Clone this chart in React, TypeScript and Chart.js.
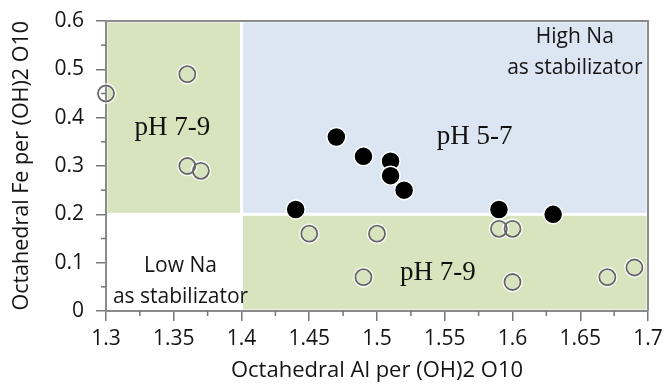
import React, { useEffect, useRef } from "react";
import { Chart, registerables } from "chart.js";

Chart.register(...registerables);

// ---- data ----
const openX = [1.3, 1.36, 1.36, 1.37, 1.45, 1.49, 1.5, 1.59, 1.6, 1.6, 1.67, 1.69];
const openY = [0.45, 0.49, 0.3, 0.29, 0.16, 0.07, 0.16, 0.17, 0.17, 0.06, 0.07, 0.09];
const filledX = [1.44, 1.47, 1.49, 1.51, 1.51, 1.52, 1.59, 1.63];
const filledY = [0.21, 0.36, 0.32, 0.31, 0.28, 0.25, 0.21, 0.2];

const xTitle = "Octahedral Al per (OH)2 O10";
const yTitle = "Octahedral Fe per (OH)2 O10";

// zones (data units)
const zoneX0 = [1.3, 1.4, 1.4];
const zoneX1 = [1.4, 1.7, 1.7];
const zoneY0 = [0.2, 0.2, 0.0];
const zoneY1 = [0.6, 0.6, 0.2];
const zoneColors = ["#d7e4bd", "#dce6f2", "#d7e4bd"];

// annotation texts (data units)
const noteTexts = ["pH 7-9", "pH 5-7", "pH 7-9", "High Na", "as stabilizator", "Low Na", "as stabilizator"];
const noteX = [1.349, 1.572, 1.545, 1.646, 1.646, 1.355, 1.355];
const noteY = [0.379, 0.36, 0.079, 0.567, 0.503, 0.093, 0.029];
const noteSerif = [true, true, true, false, false, false, false];

const SANS = "'Open Sans', 'DejaVu Sans', sans-serif";
const SERIF = "'Liberation Serif', 'DejaVu Serif', serif";

const zonesPlugin = {
  id: "zones",
  beforeDraw(chart: any) {
    const { ctx, scales } = chart;
    const x = scales.x;
    const y = scales.y;
    ctx.save();
    for (let i = 0; i < zoneX0.length; i++) {
      const px0 = x.getPixelForValue(zoneX0[i]);
      const px1 = x.getPixelForValue(zoneX1[i]);
      const py0 = y.getPixelForValue(zoneY1[i]);
      const py1 = y.getPixelForValue(zoneY0[i]);
      ctx.fillStyle = zoneColors[i];
      ctx.fillRect(px0 + 1.5, py0 + 1.5, px1 - px0 - 3, py1 - py0 - 3);
    }
    ctx.restore();
  },
  afterDraw(chart: any) {
    const { ctx, chartArea, scales } = chart;
    const x = scales.x;
    const y = scales.y;
    ctx.save();
    // frame top & right
    ctx.strokeStyle = "#8c8c8c";
    ctx.lineWidth = 2;
    ctx.beginPath();
    ctx.moveTo(chartArea.left, chartArea.top);
    ctx.lineTo(chartArea.right, chartArea.top);
    ctx.lineTo(chartArea.right, chartArea.bottom);
    ctx.stroke();
    // minor ticks
    ctx.strokeStyle = "#777";
    ctx.lineWidth = 1.5;
    const xt = x.ticks;
    for (let i = 0; i < xt.length - 1; i++) {
      const v = (xt[i].value + xt[i + 1].value) / 2;
      const p = x.getPixelForValue(v);
      ctx.beginPath();
      ctx.moveTo(p, chartArea.bottom);
      ctx.lineTo(p, chartArea.bottom + 5);
      ctx.stroke();
    }
    const yt = y.ticks;
    for (let i = 0; i < yt.length - 1; i++) {
      const v = (yt[i].value + yt[i + 1].value) / 2;
      const p = y.getPixelForValue(v);
      ctx.beginPath();
      ctx.moveTo(chartArea.left, p);
      ctx.lineTo(chartArea.left - 5, p);
      ctx.stroke();
    }
    ctx.restore();
  },
  afterDatasetsDraw(chart: any) {
    const { ctx, scales } = chart;
    const x = scales.x;
    const y = scales.y;
    ctx.save();
    ctx.textAlign = "center";
    ctx.textBaseline = "middle";
    for (let i = 0; i < noteTexts.length; i++) {
      const px = x.getPixelForValue(noteX[i]);
      const py = y.getPixelForValue(noteY[i]);
      if (noteSerif[i]) {
        ctx.font = `27px ${SERIF}`;
        ctx.fillStyle = "#111";
      } else {
        ctx.font = `21px ${SANS}`;
        ctx.fillStyle = "#151515";
      }
      ctx.fillText(noteTexts[i], px, py);
    }
    ctx.restore();
  },
};

export default function App() {
  const ref = useRef<HTMLCanvasElement>(null);
  useEffect(() => {
    if (!ref.current) return;
    const fmt = (v: any) => String(Number(Number(v).toFixed(2)));
    const chart = new Chart(ref.current, {
      type: "scatter",
      data: {
        datasets: [
          {
            label: "open",
            data: openX.map((v, i) => ({ x: v, y: openY[i] })),
            pointRadius: 8,
            pointBackgroundColor: "rgba(0,0,0,0)",
            pointBorderColor: "#666",
            pointBorderWidth: 1.8,
            order: 2,
            clip: false,
          } as any,
          {
            label: "open-halo",
            data: openX.map((v, i) => ({ x: v, y: openY[i] })),
            pointRadius: 8.5,
            pointBackgroundColor: "rgba(0,0,0,0)",
            pointBorderColor: "rgba(255,255,255,0.95)",
            pointBorderWidth: 3.5,
            order: 3,
            clip: false,
          } as any,
          {
            label: "filled",
            data: filledX.map((v, i) => ({ x: v, y: filledY[i] })),
            pointRadius: 9.5,
            pointBackgroundColor: "#000",
            pointBorderColor: "#fff",
            pointBorderWidth: 1.5,
            order: 1,
            clip: false,
          } as any,
        ],
      },
      plugins: [zonesPlugin],
      options: {
        responsive: false,
        animation: false,
        layout: { padding: { top: 21, right: 16, bottom: 0, left: 0 } },
        plugins: {
          legend: { display: false },
          tooltip: { enabled: false },
        },
        scales: {
          x: {
            type: "linear",
            min: 1.3,
            max: 1.7,
            afterFit(scale: any) {
              scale.height = 74;
              scale.paddingLeft = 0;
              scale.paddingRight = 0;
            },
            ticks: {
              stepSize: 0.05,
              callback: fmt,
              color: "#151515",
              font: { family: SANS, size: 21 },
              padding: 5,
              maxRotation: 0,
              autoSkip: false,
            },
            grid: {
              drawOnChartArea: false,
              drawTicks: true,
              tickLength: 10,
              color: "#777",
              lineWidth: 1.5,
            },
            border: { display: true, color: "#8a8a8a", width: 2 },
            title: {
              display: true,
              text: xTitle,
              color: "#151515",
              font: { family: SANS, size: 22 },
              padding: { top: 0, bottom: 1 },
            },
          },
          y: {
            type: "linear",
            min: 0,
            max: 0.6,
            afterFit(scale: any) {
              scale.width = 106;
              scale.paddingTop = 0;
              scale.paddingBottom = 0;
            },
            ticks: {
              stepSize: 0.1,
              callback: fmt,
              color: "#151515",
              font: { family: SANS, size: 21 },
              padding: 12,
              autoSkip: false,
            },
            grid: {
              drawOnChartArea: false,
              drawTicks: true,
              tickLength: 10,
              color: "#777",
              lineWidth: 1.5,
            },
            border: { display: true, color: "#8a8a8a", width: 2 },
            title: {
              display: true,
              text: yTitle,
              align: "end",
              color: "#151515",
              font: { family: SANS, size: 21.5 },
              padding: { top: 9, bottom: 0 },
            },
          },
        },
      } as any,
    });
    return () => chart.destroy();
  }, []);
  return (
    <div style={{ position: "absolute", left: 0, top: 0, width: 664, height: 385 }}>
      <canvas ref={ref} width={664} height={385} style={{ display: "block" }} />
    </div>
  );
}
